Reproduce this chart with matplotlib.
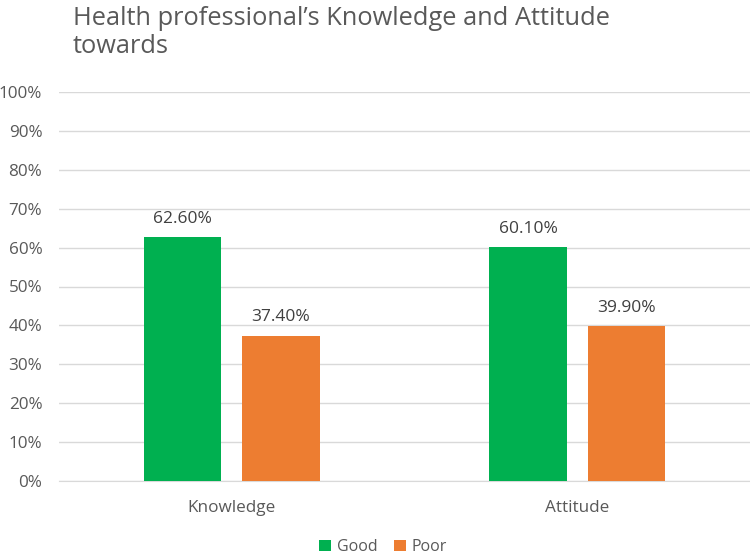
import matplotlib.pyplot as plt
import numpy as np

plt.rcParams['font.family'] = ['Open Sans', 'DejaVu Sans']

categories = ['Knowledge', 'Attitude']
series_names = ['Good', 'Poor']
good = [62.60, 60.10]
poor = [37.40, 39.90]
colors = ['#00B050', '#ED7D31']
txt = '#595959'

fig = plt.figure(figsize=(7.5, 5.57), dpi=100)
ax = fig.add_axes([59/750, 1 - 481/557, 691/750, (481 - 92)/557])

x = np.arange(len(categories))
w = 0.223
off = 0.1425
for vals, name, c, d in [(good, series_names[0], colors[0], -off),
                         (poor, series_names[1], colors[1], off)]:
    bars = ax.bar(x + d, vals, w, color=c, label=name, zorder=3)
    for b, v in zip(bars, vals):
        ax.text(b.get_x() + b.get_width() / 2, v + 2.6, f'{v:.2f}%',
                ha='center', va='bottom', fontsize=12.5, color='#404040')

ax.set_xlim(-0.5, 1.5)
ax.set_ylim(0, 100)
ax.set_yticks(np.arange(0, 101, 10))
ax.set_yticklabels([f'{t}%' for t in range(0, 101, 10)])
ax.set_xticks(x)
ax.set_xticklabels(categories)
ax.tick_params(axis='both', length=0, labelsize=12.3, colors=txt)
ax.tick_params(axis='y', pad=12)
ax.tick_params(axis='x', pad=14)
ax.grid(axis='y', color='#D9D9D9', lw=1, zorder=0)
for s in ['top', 'right', 'left']:
    ax.spines[s].set_visible(False)
ax.spines['bottom'].set_color('#D9D9D9')

fig.text(73/750, 1 - 25/557, 'Health professional\u2019s Knowledge and Attitude',
         ha='left', va='baseline', fontsize=18.3, color=txt)
fig.text(73/750, 1 - 53/557, 'towards',
         ha='left', va='baseline', fontsize=18.3, color=txt)

ax.legend(loc='center', bbox_to_anchor=(0.5 - 21.5/691, (481 - 547) / 389), ncol=2,
          frameon=False, fontsize=11.5, labelcolor=txt, handlelength=0.75,
          handleheight=0.75, handletextpad=0.35, columnspacing=1.0)

fig.savefig('out.png', dpi=100)
